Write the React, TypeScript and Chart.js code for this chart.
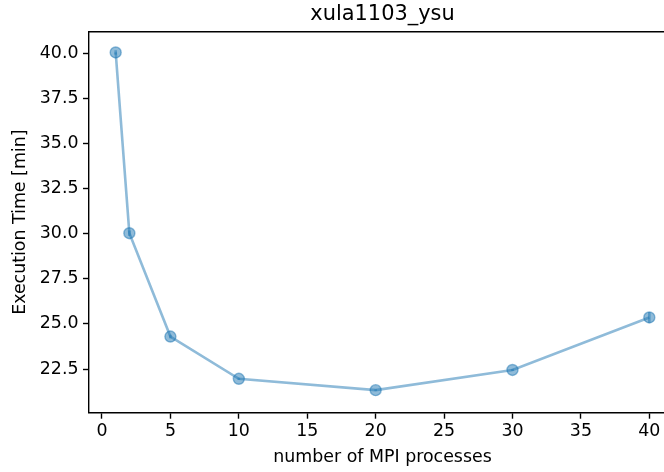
import React, { useEffect, useRef } from "react";
import { Chart, registerables } from "chart.js";

Chart.register(...registerables);

const processes = [1, 2, 5, 10, 20, 30, 40];
const execTime = [40.05, 30.03, 24.3, 21.96, 21.33, 22.45, 25.36];
const execErr = [0.12, 0.15, 0.1, 0.06, 0.05, 0.06, 0.3];
const xTicks = [0, 5, 10, 15, 20, 25, 30, 35, 40];
const yTicks = [22.5, 25.0, 27.5, 30.0, 32.5, 35.0, 37.5, 40.0];
const titleText = "xula1103_ysu";
const xLabel = "number of MPI processes";
const yLabel = "Execution Time [min]";

const BLUE = "rgba(31,119,180,0.5)";
const FONT = "'DejaVu Sans', sans-serif";
const FS = 17.4;

export default function App() {
  const ref = useRef<HTMLCanvasElement>(null);
  useEffect(() => {
    const canvas = ref.current!;
    const overlay = {
      id: "overlay",
      afterDatasetsDraw(chart: any) {
        const ctx = chart.ctx;
        const xs = chart.scales.x;
        const ys = chart.scales.y;
        ctx.save();
        ctx.strokeStyle = BLUE;
        ctx.lineWidth = 2.6;
        processes.forEach((p, i) => {
          const px = xs.getPixelForValue(p);
          ctx.beginPath();
          ctx.moveTo(px, ys.getPixelForValue(execTime[i] - execErr[i]));
          ctx.lineTo(px, ys.getPixelForValue(execTime[i] + execErr[i]));
          ctx.stroke();
        });
        ctx.restore();
      },
      afterDraw(chart: any) {
        const ctx = chart.ctx;
        const a = chart.chartArea;
        ctx.save();
        ctx.strokeStyle = "#000";
        ctx.lineWidth = 1.4;
        ctx.beginPath();
        ctx.moveTo(a.left, a.top);
        ctx.lineTo(a.right, a.top);
        ctx.lineTo(a.right, a.bottom);
        ctx.stroke();
        ctx.fillStyle = "#000";
        ctx.textAlign = "center";
        ctx.textBaseline = "middle";
        ctx.font = `20.9px ${FONT}`;
        ctx.fillText(titleText, (a.left + a.right) / 2, 15);
        ctx.font = `${FS}px ${FONT}`;
        ctx.fillText(xLabel, (a.left + a.right) / 2, 457);
        ctx.translate(20.5, (a.top + a.bottom) / 2);
        ctx.rotate(-Math.PI / 2);
        ctx.fillText(yLabel, 0, 0);
        ctx.restore();
      },
    };
    const chart = new Chart(canvas, {
      type: "line",
      data: {
        datasets: [
          {
            data: processes.map((p, i) => ({ x: p, y: execTime[i] })),
            borderColor: BLUE,
            backgroundColor: BLUE,
            borderWidth: 2.6,
            pointRadius: 5.5,
            pointBorderWidth: 1.4,
            pointBorderColor: BLUE,
            pointBackgroundColor: BLUE,
            tension: 0,
          },
        ],
      },
      options: {
        responsive: false,
        animation: false,
        devicePixelRatio: 1,
        layout: { padding: { top: 31.7, right: 14, left: 0, bottom: 0 } },
        plugins: { legend: { display: false }, tooltip: { enabled: false }, title: { display: false } },
        scales: {
          x: {
            type: "linear",
            min: -0.95,
            max: 41.95,
            afterBuildTicks: (s: any) => {
              s.ticks = xTicks.map((v) => ({ value: v }));
            },
            afterFit: (s: any) => {
              s.height = 472 - 412.7;
            },
            ticks: {
              color: "#000",
              font: { family: FONT, size: FS },
              padding: 2,
              maxRotation: 0,
              autoSkip: false,
              callback: (v: any) => String(v),
            },
            grid: { drawOnChartArea: false, color: "#000", tickLength: 6, tickWidth: 1.4 },
            border: { color: "#000", width: 1.4 },
          },
          y: {
            type: "linear",
            min: 20.08,
            max: 41.2,
            afterBuildTicks: (s: any) => {
              s.ticks = yTicks.map((v) => ({ value: v }));
            },
            afterFit: (s: any) => {
              s.width = 89;
            },
            ticks: {
              color: "#000",
              font: { family: FONT, size: FS },
              padding: 4.5,
              autoSkip: false,
              callback: (v: any) => Number(v).toFixed(1),
            },
            grid: { drawOnChartArea: false, color: "#000", tickLength: 6, tickWidth: 1.4 },
            border: { color: "#000", width: 1.4 },
          },
        },
      },
      plugins: [overlay],
    });
    return () => chart.destroy();
  }, []);
  return (
    <div style={{ position: "fixed", left: 0, top: 0, width: 664, height: 472, overflow: "hidden", background: "#fff" }}>
      <canvas ref={ref} width={690} height={472} style={{ width: 690, height: 472, display: "block" }} />
    </div>
  );
}
